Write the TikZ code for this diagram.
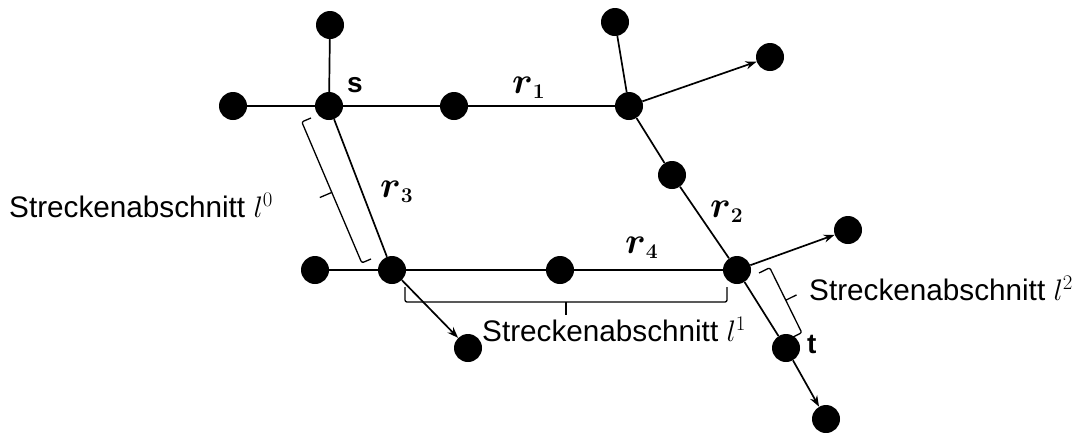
\RequirePackage{fix-cm}
\documentclass[tikz,border=0pt]{standalone}
\usepackage{amsmath}
\usepackage[no-math]{fontspec}
\setmainfont{Liberation Sans}
\usetikzlibrary{arrows.meta,calc}
\DeclareMathSizes{37}{37}{21}{16}
\newcommand\mybrace[4]{%
  \coordinate (bmid) at ($(#1)!0.5!(#2)$);
  \draw[brc] (#1) -- ($(#1)!#3!-90:(#2)$) -- ($(#2)!#3!90:(#1)$) -- (#2);
  \draw[brc] ($(bmid)!#3!-90:(#2)$) -- ($(bmid)!#4!-90:(#2)$);
}
\begin{document}
\begin{tikzpicture}[x=1pt,y=-1pt,
  dot/.style={circle,fill=black,minimum size=28pt,inner sep=0pt},
  edge/.style={line width=1.7pt},
  arr/.style={edge,-{Stealth[length=11pt,width=8pt]}},
  lab/.style={font=\fontsize{29.7}{34}\selectfont, anchor=base west, inner sep=0pt},
  rlab/.style={font=\fontsize{37}{42}\selectfont, anchor=base west, inner sep=0pt},
  stl/.style={font=\fontsize{28}{32}\selectfont\bfseries, anchor=base west, inner sep=0pt},
  brc/.style={line width=1.3pt, rounded corners=2pt}]
\useasboundingbox (0,0) rectangle (1085,432);
% nodes
\node[dot] (stop) at (330,25) {};
\node[dot] (s) at (329,106) {};
\node[dot] (l) at (233,106) {};
\node[dot] (m1) at (454,106) {};
\node[dot] (b) at (629,106) {};
\node[dot] (btop) at (615,22) {};
\node[dot] (bright) at (770,57) {};
\node[dot] (m2) at (672,175) {};
\node[dot] (c) at (737,270) {};
\node[dot] (cright) at (848,230) {};
\node[dot] (t) at (786,348) {};
\node[dot] (tbot) at (826,419) {};
\node[dot] (d) at (392,270) {};
\node[dot] (dleft) at (315,270) {};
\node[dot] (m4) at (560,270) {};
\node[dot] (ddown) at (468,348) {};
% edges
\draw[edge] (stop) -- (s);
\draw[edge] (l) -- (s);
\draw[edge] (s) -- (m1);
\draw[edge] (m1) -- (b);
\draw[edge] (btop) -- (b);
\draw[arr] (b) -- (bright);
\draw[edge] (b) -- (m2);
\draw[edge] (m2) -- (c);
\draw[arr] (c) -- (cright);
\draw[edge] (c) -- (t);
\draw[arr] (t) -- (tbot);
\draw[edge] (s) -- (d);
\draw[edge] (dleft) -- (d);
\draw[edge] (d) -- (m4);
\draw[edge] (m4) -- (c);
\draw[arr] (d) -- (ddown);
% braces
\coordinate (b0a) at (311,118);
\coordinate (b0b) at (371,259);
\mybrace{b0a}{b0b}{10pt}{23pt}
\coordinate (b1a) at (405,287);
\coordinate (b1b) at (727,287);
\mybrace{b1a}{b1b}{15pt}{28pt}
\coordinate (b2a) at (791,338);
\coordinate (b2b) at (759,273);
\mybrace{b2a}{b2b}{12pt}{24pt}
% labels
\node[stl] (slab) at (347,92) {s};
\node[stl] (tlab) at (807,353) {t};
\node[rlab] (r1) at (512,93) {$\boldsymbol{r}_{\mathbf{1}}$};
\node[rlab] (r2) at (710,217) {$\boldsymbol{r}_{\mathbf{2}}$};
\node[rlab] (r3) at (380,197) {$\boldsymbol{r}_{\mathbf{3}}$};
\node[rlab] (r4) at (625,253) {$\boldsymbol{r}_{\mathbf{4}}$};
\node[lab] (l0) at (9,217) {Streckenabschnitt $l^{0}$};
\node[lab] (l1) at (482,341) {Streckenabschnitt $l^{1}$};
\node[lab] (l2) at (809,300) {Streckenabschnitt $l^{2}$};
\end{tikzpicture}
\end{document}
